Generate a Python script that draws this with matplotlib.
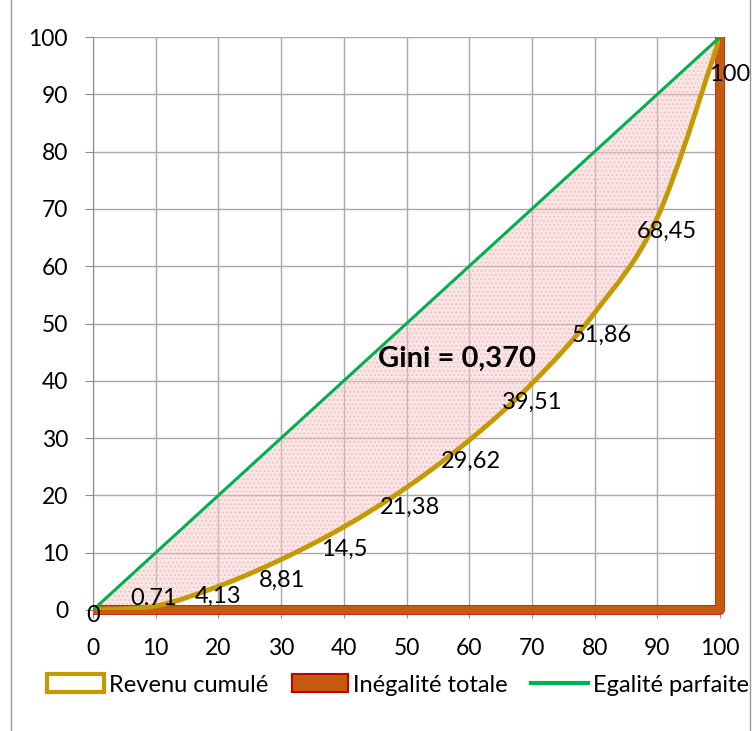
import matplotlib
matplotlib.use("Agg")
import numpy as np
import matplotlib.pyplot as plt
from matplotlib.patches import Rectangle, Patch, PathPatch
from matplotlib.lines import Line2D
from matplotlib.path import Path

plt.rcParams["font.family"] = ["Lato", "DejaVu Sans"]

population = [0, 10, 20, 30, 40, 50, 60, 70, 80, 90, 100]
revenu_cumule = [0, 0.71, 4.13, 8.81, 14.5, 21.38, 29.62, 39.51, 51.86, 68.45, 100]
revenu_labels = ["0", "0.71", "4,13", "8,81", "14,5", "21,38", "29,62", "39,51", "51,86", "68,45", "100"]
inegalite_x = [0, 100, 100]
inegalite_y = [0, 0, 100]
egalite = [0, 100]
gini_text = "Gini = 0,370"
ticks = [0, 10, 20, 30, 40, 50, 60, 70, 80, 90, 100]


def smooth_path(xs, ys):
    # Excel-like smoothed line: Catmull-Rom segments turned into cubic beziers
    pts = np.column_stack([xs, ys]).astype(float)
    padded = np.vstack([pts[0], pts, pts[-1]])
    verts = [pts[0]]
    codes = [Path.MOVETO]
    for i in range(len(pts) - 1):
        p0, p1, p2, p3 = padded[i], padded[i + 1], padded[i + 2], padded[i + 3]
        verts += [p1 + (p2 - p0) / 6, p2 - (p3 - p1) / 6, p2]
        codes += [Path.CURVE4] * 3
    return verts, codes


fig = plt.figure(figsize=(7.56, 7.31), dpi=100)
fig.patches.append(Rectangle((11 / 756, -0.01), 739 / 756, 1.02, transform=fig.transFigure,
                             fill=False, edgecolor="#9a9a9a", linewidth=1))
ax = fig.add_axes([93 / 756, 1 - 610 / 731, 627 / 756, 573 / 731])

curve_verts, curve_codes = smooth_path(population, revenu_cumule)

# shaded area between equality line and Lorenz curve
area = Path(curve_verts + [(0, 0), (0, 0)], curve_codes + [Path.LINETO, Path.CLOSEPOLY])
ax.add_patch(PathPatch(area, facecolor="#f6c8c8", alpha=0.45, edgecolor="#e8a0a0",
                       hatch="....", linewidth=0, zorder=2))

ax.plot(inegalite_x, inegalite_y, color="#c00000", linewidth=7, solid_capstyle="butt",
        clip_on=False, zorder=3)
ax.plot(inegalite_x, inegalite_y, color="#c55a11", linewidth=6, solid_capstyle="butt",
        clip_on=False, zorder=3)
ax.add_patch(PathPatch(Path(curve_verts, curve_codes), facecolor="none", edgecolor="#c49a00",
                       linewidth=3.5, zorder=4))
ax.plot(egalite, egalite, color="#00b050", linewidth=2.2, zorder=5)

# label offsets in points
offsets = [(0, -4), (-1.5, 5), (0, -7), (1, -15), (0.5, -16), (2.5, -14), (1, -15), (0.5, -13.5),
           (5, -16), (7, -9.5), (7, -27)]
for x, y, lab, off in zip(population, revenu_cumule, revenu_labels, offsets):
    ax.annotate(lab, (x, y), xytext=off, textcoords="offset points",
                ha="center", va="center", fontsize=17, zorder=6, annotation_clip=False)

ax.text(58, 43.8, gini_text, fontsize=21, fontweight="bold", ha="center", va="center", zorder=6)

ax.set_xlim(0, 100)
ax.set_ylim(0, 100)
ax.set_xticks(ticks)
ax.set_yticks(ticks)
ax.tick_params(labelsize=16.5, length=6, color="#8c8c8c")
ax.tick_params(axis="x", pad=14)
ax.tick_params(axis="y", pad=12)
ax.grid(True, color="#a8a8a8", linewidth=1, zorder=1)
ax.set_axisbelow(True)
for side in ["top", "right"]:
    ax.spines[side].set_visible(False)
for side in ["left", "bottom"]:
    ax.spines[side].set_color("#8c8c8c")

handles = [
    Patch(facecolor="white", edgecolor="#c49a00", linewidth=3, label="Revenu cumulé"),
    Patch(facecolor="#c55a11", edgecolor="#c00000", linewidth=1.5, label="Inégalité totale"),
    Line2D([0], [0], color="#00b050", linewidth=3, label="Egalité parfaite"),
]
fig.legend(handles=handles, loc="center", bbox_to_anchor=(398 / 756, 1 - 685 / 731), ncol=3,
           frameon=False, fontsize=17, handlelength=2.4, handleheight=0.8,
           handletextpad=0.2, columnspacing=1.0)

fig.savefig("out.png", dpi=100)
